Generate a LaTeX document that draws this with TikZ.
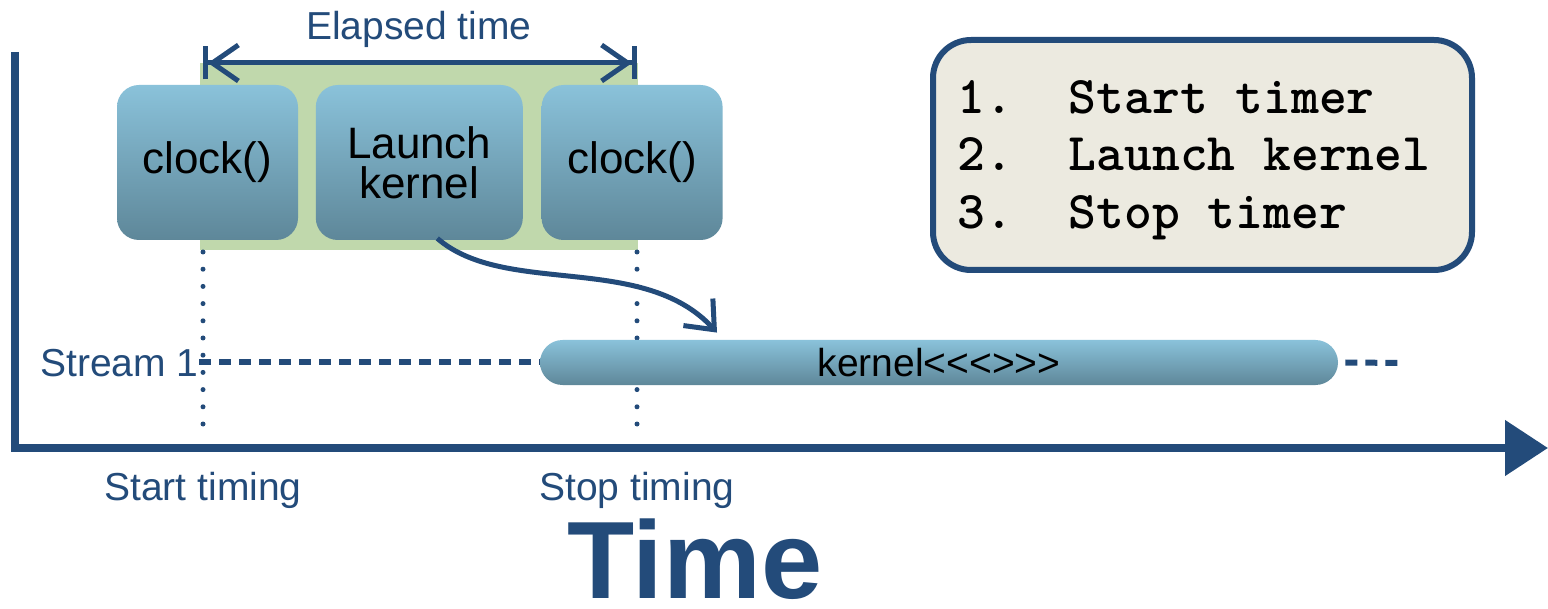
\documentclass[tikz,border=0pt]{standalone}
\usepackage{fontspec}
\setmainfont{Liberation Sans}
\usetikzlibrary{positioning, arrows.meta, backgrounds}

\definecolor{axisblue}{RGB}{35,75,122}
\definecolor{boxtop}{RGB}{138,194,218}
\definecolor{boxbot}{RGB}{94,135,153}
\definecolor{spangreen}{RGB}{192,216,172}
\definecolor{notefill}{RGB}{236,234,224}

% angle brackets without the << and >> ligatures
\newcommand\launchbrackets{<\kern0pt<\kern0pt<\kern0pt>\kern0pt>\kern0pt>}

\begin{document}
\begin{tikzpicture}[
  x=0.5pt, y=-0.5pt,
  call/.style={rounded corners=11pt, top color=boxtop, bottom color=boxbot, minimum width=90.5pt, minimum height=77.5pt, align=center, inner sep=1pt, font=\fontsize{22}{20}\selectfont},
  kbar/.style={rounded corners=11.25pt, top color=boxtop, bottom color=boxbot, minimum width=399pt, minimum height=22.5pt, inner sep=0pt, font=\fontsize{19.5}{22}\selectfont},
  note/.style={draw=axisblue, line width=3pt, rounded corners=19pt, fill=notefill, minimum width=269.5pt, minimum height=115pt},
  steptext/.style={align=left, inner sep=0pt, font=\fontsize{26.5}{28.75}\selectfont\ttfamily\bfseries},
  lbl/.style={text=axisblue, inner sep=0pt, font=\fontsize{19.5}{22}\selectfont},
  axis/.style={axisblue, line width=4pt, -{Triangle[length=21.5pt,width=27pt]}},
  span/.style={axisblue, line width=2.5pt, {Bar[width=16.5pt]Straight Barb[length=13pt,width=18pt]}-{Straight Barb[length=13pt,width=18pt]Bar[width=16.5pt]}},
  guide/.style={axisblue, line width=2.5pt, line cap=round, dash pattern=on 0pt off 8.6pt},
  stream/.style={axisblue, line width=3pt, dash pattern=on 6pt off 4pt},
  a/.style={axisblue, line width=2.5pt, -{Straight Barb[length=12pt,width=20pt]}}
]
\useasboundingbox (0,0) rectangle (1548,609);

% time axis
\coordinate (top) at (15,52);
\coordinate (tip) at (1548,448);
\draw[axis] (top) |- (tip);

% start / stop instants
\coordinate (t0) at (203,448);
\coordinate (t1) at (637,448);

% measured span behind the calls
\fill[spangreen] (200,63) rectangle (638,250);
\node[call] (clk1) at (207.5,162.5) {clock()};
\node[call, minimum width=103.5pt, right=8.5pt of clk1] (launch) {Launch\\kernel};
\node[call, right=9pt of launch] (clk2) {clock()};

\draw[span] (t0 |- 0,63) -- (t1 |- 0,63);
\node[lbl, anchor=base] (elapsed) at (419,40) {Elapsed time};

\foreach \t in {t0,t1}
  \draw[guide] (\t |- 0,252) -- (\t |- 0,436);

% stream 1
\node[kbar] (kern) at (939,362.5) {kernel\launchbrackets};
\node[lbl, anchor=base east] (s1) at (199,377) {Stream 1};
\coordinate (sEnd) at (1405,363);
\draw[stream] (s1.east |- kern.west) -- (kern.west);
\draw[stream] ([xshift=3.5pt]kern.east) -- (sEnd);

\draw[a] ([xshift=9pt,yshift=1pt]launch.south) .. controls (505,297) and (643,252) .. ([shift={(-111pt,3.5pt)}]kern.north);

% labels under the axis
\node[lbl, anchor=base] (start) at (t0 |- 0,500) {Start timing};
\node[lbl, anchor=base] (stop) at (t1 |- 0,500) {Stop timing};
\node[text=axisblue, inner sep=0pt, anchor=base, font=\fontsize{55}{60}\selectfont\bfseries] (tlabel) at (695,598) {Time};

% steps
\node[note] (frame) at (1202.5,155) {};
\node[steptext, anchor=west] (steps) at (957,160) {1.~~Start timer\\2.~~Launch kernel\\3.~~Stop timer};
\end{tikzpicture}
\end{document}
